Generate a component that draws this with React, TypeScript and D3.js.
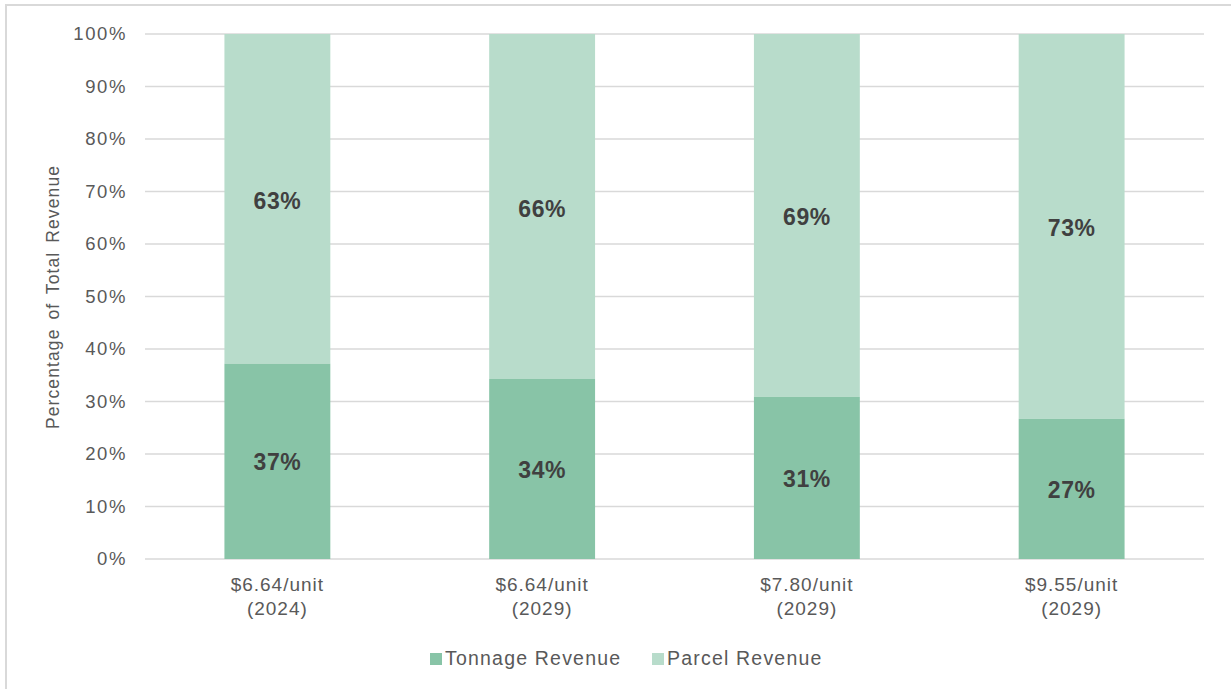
import React from "react";
import * as d3 from "d3";

const categories = ["$6.64/unit\n(2024)", "$6.64/unit\n(2029)", "$7.80/unit\n(2029)", "$9.55/unit\n(2029)"];
const tonnage = [37.2, 34.3, 30.9, 26.7];
const tonnageLabels = ["37%", "34%", "31%", "27%"];
const parcelLabels = ["63%", "66%", "69%", "73%"];
const yTicks = [0, 10, 20, 30, 40, 50, 60, 70, 80, 90, 100];
const seriesNames = ["Tonnage Revenue", "Parcel Revenue"];
const colors = ["#88c4a7", "#b8dccb"];

const W = 1231, H = 689;
const plot = { left: 145, right: 1204, top: 34, bottom: 559 };
const FONT = "'Liberation Sans', Arial, sans-serif";

export default function App() {
  const x = d3.scaleBand<number>().domain(d3.range(categories.length)).range([plot.left, plot.right]).paddingInner(0.6).paddingOuter(0.3);
  const y = d3.scaleLinear().domain([0, 100]).range([plot.bottom, plot.top]);
  const bw = x.bandwidth();

  return (
    <svg width={W} height={H} style={{ position: "absolute", left: 0, top: 0, background: "#fff" }} fontFamily={FONT}>
      <rect x={0} y={0} width={W} height={H} fill="#fff" />
      <line x1={6} x2={6} y1={5} y2={H} stroke="#d9d9d9" strokeWidth={2} />
      <line x1={5} x2={W} y1={5} y2={5} stroke="#d9d9d9" strokeWidth={2} />
      {yTicks.map((t) => (
        <g key={t}>
          <line x1={plot.left} x2={plot.right} y1={y(t)} y2={y(t)} stroke="#d9d9d9" strokeWidth={1.5} />
          <text x={127} y={y(t)} dy="0.35em" textAnchor="end" fontSize={18.5} letterSpacing={1.6} fill="#595959">{t}%</text>
        </g>
      ))}
      <text transform={`translate(53,297) rotate(-90)`} textAnchor="middle" dy="0.35em" fontSize={17.5} letterSpacing={1.1} wordSpacing={3} fill="#595959">Percentage of Total Revenue</text>
      {categories.map((c, i) => {
        const x0 = x(i)!;
        const cx = x0 + bw / 2;
        const t = tonnage[i];
        return (
          <g key={i}>
            <rect x={x0} y={y(100)} width={bw} height={y(t) - y(100)} fill={colors[1]} />
            <rect x={x0} y={y(t)} width={bw} height={y(0) - y(t)} fill={colors[0]} />
            <text x={cx} y={(y(t) + y(0)) / 2 + 1} dy="0.35em" textAnchor="middle" fontSize={23} fontWeight="bold" letterSpacing={0.5} fill="#404040">{tonnageLabels[i]}</text>
            <text x={cx} y={(y(t) + y(100)) / 2 + 2} dy="0.35em" textAnchor="middle" fontSize={23} fontWeight="bold" letterSpacing={0.5} fill="#404040">{parcelLabels[i]}</text>
            {c.split("\n").map((ln, j) => (
              <text key={j} x={cx} y={584 + j * 24} dy="0.35em" textAnchor="middle" fontSize={19} letterSpacing={1} fill="#595959">{ln}</text>
            ))}
          </g>
        );
      })}
      {seriesNames.map((s, i) => {
        const lx = i === 0 ? 430 : 652;
        return (
          <g key={s}>
            <rect x={lx} y={653} width={12} height={12} fill={colors[i]} />
            <text x={lx + 15} y={658} dy="0.35em" fontSize={19.5} letterSpacing={1.2} fill="#595959">{s}</text>
          </g>
        );
      })}
    </svg>
  );
}
